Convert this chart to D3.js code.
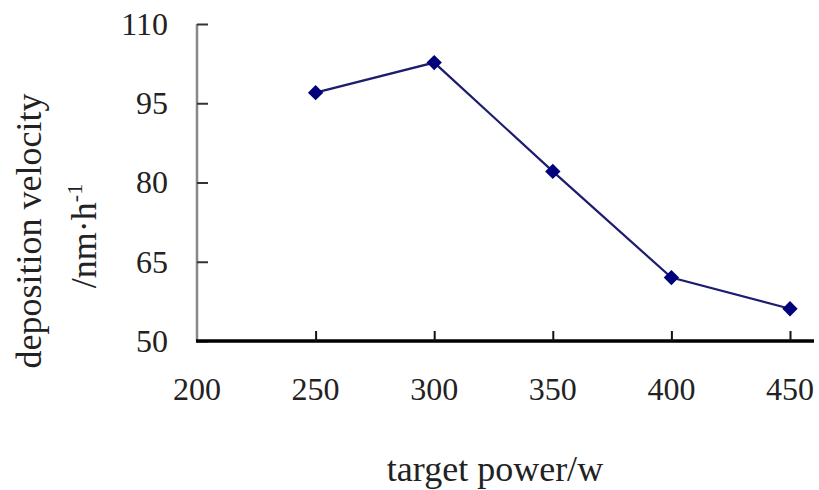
<!DOCTYPE html>
<html>
<head>
<meta charset="utf-8">
<script src="https://cdn.jsdelivr.net/npm/d3@7"></script>
<style>
  html, body { margin: 0; padding: 0; background: #fff; }
  svg { display: block; }
  text { font-family: "Liberation Serif", "Times New Roman", serif; fill: #222; }
</style>
</head>
<body>
<svg id="chart" width="819" height="490"></svg>
<script>
const powers = [250, 300, 350, 400, 450];
const velocity = [97, 102.7, 82.1, 62, 56.1];
const xTicks = [200, 250, 300, 350, 400, 450];
const yTicks = [50, 65, 80, 95, 110];
const xTitle = "target power/w";
const yTitle1 = "deposition velocity";
const yTitle2 = "/nm·h";

const svg = d3.select("#chart");
const mLeft = 197, mRight = 790, mTop = 24, mBottom = 341;

const x = d3.scaleLinear().domain([200, 450]).range([mLeft, mRight]);
const y = d3.scaleLinear().domain([50, 110]).range([mBottom, mTop]);

// Y axis
const yAxis = svg.append("g").attr("transform", `translate(${mLeft},0)`)
  .call(d3.axisRight(y).tickValues(yTicks).tickSize(11).tickFormat(""));
yAxis.select(".domain").attr("stroke", "#888").attr("stroke-width", 2.5).attr("d", `M0,${mTop}V${mBottom}`);
yAxis.selectAll(".tick line").attr("stroke", "#333").attr("stroke-width", 2);
svg.append("g").selectAll("text").data(yTicks).join("text")
  .attr("x", 168).attr("y", d => y(d)).attr("dy", "0.34em")
  .attr("text-anchor", "end").attr("font-size", 32).text(d => d);

// X axis
const xAxis = svg.append("g").attr("transform", `translate(0,${mBottom})`)
  .call(d3.axisTop(x).tickValues(xTicks.slice(1)).tickSize(10).tickFormat(""));
xAxis.select(".domain").attr("stroke", "#000").attr("stroke-width", 3.5).attr("d", `M${mLeft - 1},0H814`);
xAxis.selectAll(".tick line").attr("stroke", "#111").attr("stroke-width", 2);
svg.append("g").selectAll("text").data(xTicks).join("text")
  .attr("x", d => x(d)).attr("y", 400)
  .attr("text-anchor", "middle").attr("font-size", 32).text(d => d);

// Titles
svg.append("text").attr("x", 495).attr("y", 481).attr("text-anchor", "middle")
  .attr("font-size", 36).text(xTitle);
svg.append("text").attr("transform", "translate(41,231) rotate(-90)")
  .attr("text-anchor", "middle").attr("font-size", 36).text(yTitle1);
const t2 = svg.append("text").attr("transform", "translate(96,236) rotate(-90)")
  .attr("text-anchor", "middle").attr("font-size", 36);
t2.append("tspan").text(yTitle2);
t2.append("tspan").attr("dy", -14).attr("font-size", 22).text("-1");

// Line
const line = d3.line().x((d, i) => x(powers[i])).y(d => y(d));
svg.append("path").datum(velocity).attr("d", line)
  .attr("fill", "none").attr("stroke", "#1c1c70").attr("stroke-width", 2.2);

// Markers
svg.append("g").selectAll("path").data(velocity).join("path")
  .attr("transform", (d, i) => `translate(${x(powers[i])},${y(d)})`)
  .attr("d", d3.symbol(d3.symbolDiamond2, 150)())
  .attr("fill", "#00007a");
</script>
</body>
</html>
